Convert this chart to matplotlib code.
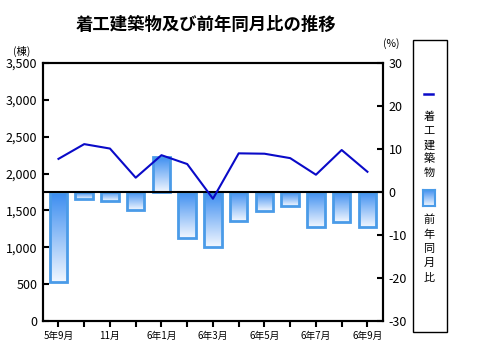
import numpy as np
import matplotlib
matplotlib.use("Agg")
import matplotlib.pyplot as plt
from matplotlib.patches import Rectangle
from matplotlib.colors import LinearSegmentedColormap

plt.rcParams['font.family'] = ['Noto Sans CJK JP', 'DejaVu Sans']

# Data
months = ["5年9月", "10月", "11月", "12月", "6年1月", "2月", "6年3月",
          "4月", "6年5月", "6月", "6年7月", "8月", "6年9月"]
counts = [2200, 2400, 2340, 1945, 2250, 2130, 1660, 2275, 2270, 2210, 1985, 2320, 2025]
yoy = [-20.9, -1.6, -2.1, -4.2, 8.2, -10.7, -12.7, -6.8, -4.4, -3.2, -8.2, -7.0, -8.2]
shown_labels = ["5年9月", "", "11月", "", "6年1月", "", "6年3月", "", "6年5月", "", "6年7月", "", "6年9月"]

left_ticks = [0, 500, 1000, 1500, 2000, 2500, 3000, 3500]
right_ticks = [-30, -20, -10, 0, 10, 20, 30]

line_color = "#0a0ac8"
edge_color = "#4a9be8"
grad = LinearSegmentedColormap.from_list("g", ["#f2f7ff", "#3a8cf0"])

fig = plt.figure(figsize=(4.78, 3.6), dpi=100)
ax1 = fig.add_axes([0.09, 0.108, 0.711, 0.717])
ax2 = ax1.twinx()

x = np.arange(len(months))
width = 0.68

# bars with vertical gradient (right axis)
bars = ax2.bar(x, yoy, width=width, color="none", edgecolor=edge_color, linewidth=2, zorder=3)
gimg = np.linspace(1, 0, 256).reshape(-1, 1)
for b, v in zip(bars, yoy):
    x0 = b.get_x()
    top = max(v, 0)
    bot = min(v, 0)
    im = ax2.imshow(gimg, cmap=grad, aspect="auto", extent=[x0, x0 + width, bot, top],
                    zorder=2, vmin=0, vmax=1)
    im.set_clip_path(b)
ax2.axhline(0, color="black", lw=1.5, zorder=4)
ax2.set_ylim(-30, 30)
ax2.set_yticks(right_ticks)
ax2.set_yticklabels([str(t) for t in right_ticks])

# line (left axis)
ax1.plot(x, counts, color=line_color, lw=1.5, zorder=5)
ax1.set_ylim(0, 3500)
ax1.set_yticks(left_ticks)
ax1.set_yticklabels([f"{t:,}" for t in left_ticks])
ax1.set_xlim(-0.6, len(months) - 0.4)
ax1.set_xticks(x)
ax1.set_xticklabels(shown_labels, fontsize=7)
ax1.set_zorder(ax2.get_zorder() + 1)
ax1.patch.set_visible(False)
ax2.set_xlim(ax1.get_xlim())

for ax in (ax1, ax2):
    for s in ax.spines.values():
        s.set_linewidth(1.5)
ax1.tick_params(axis="y", direction="in", length=4, width=1.5, labelsize=9, pad=4)
ax2.tick_params(axis="y", direction="in", length=4, width=1.5, labelsize=9, pad=4)
ax1.tick_params(axis="x", direction="out", length=4, width=1.5, pad=3)

fig.suptitle("着工建築物及び前年同月比の推移", x=0.43, y=0.955, fontsize=12.5, fontweight="bold")
fig.text(0.046, 0.858, "(棟)", fontsize=7.5, ha="center", va="center")
fig.text(0.818, 0.878, "(%)", fontsize=7.5, ha="center", va="center")

# legend box
box = Rectangle((0.864, 0.078), 0.071, 0.811, transform=fig.transFigure,
                facecolor="white", edgecolor="black", lw=1, zorder=0)
fig.patches.append(box)
fig.lines.append(plt.Line2D([0.888, 0.906], [0.739, 0.739], transform=fig.transFigure,
                            color=line_color, lw=1.8))
for i, ch in enumerate("着工建築物"):
    fig.text(0.897, 0.675 - i * 0.039, ch, fontsize=8, ha="center", va="center")
lax = fig.add_axes([0.884, 0.427, 0.025, 0.045])
lax.set_zorder(5)
lax.imshow(gimg, cmap=grad, aspect="auto", vmin=0, vmax=1)
lax.set_xticks([])
lax.set_yticks([])
for s in lax.spines.values():
    s.set_color(edge_color)
    s.set_linewidth(1.5)
for i, ch in enumerate("前年同月比"):
    fig.text(0.897, 0.389 - i * 0.040, ch, fontsize=8, ha="center", va="center")

fig.savefig("out.png", dpi=100)
